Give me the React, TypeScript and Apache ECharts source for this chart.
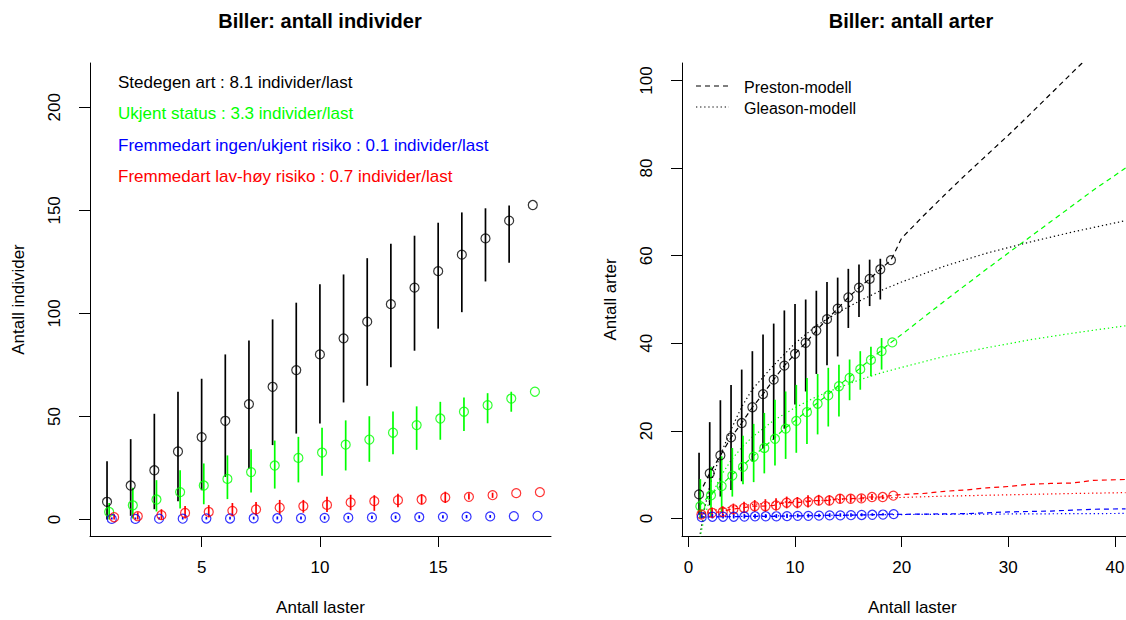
import React, { useEffect, useRef } from "react";
import * as echarts from "echarts";

// ---------- data ----------
const loads = [1, 2, 3, 4, 5, 6, 7, 8, 9, 10, 11, 12, 13, 14, 15, 16, 17, 18, 19];

// Left panel: number of individuals
const indBlack = [8.6, 16.5, 23.9, 33.0, 40.0, 47.9, 56.0, 64.4, 72.5, 80.1, 87.9, 96.0, 104.5, 112.5, 120.5, 128.5, 136.4, 145.0, 152.6];
const indBlackLo = [0, 1.8, 5, 8.9, 14.2, 20.7, 24.8, 36.1, 41.7, 46.6, 56.8, 64.9, 73.9, 81.9, 92.6, 100.6, 115.5, 124.6, null];
const indBlackHi = [28.3, 39, 51.3, 62, 68.3, 80.1, 86.9, 97.1, 105.2, 114.1, 118.9, 126.8, 133.8, 137.7, 144, 149, 151, 152.4, null];
const indGreen = [3.7, 6.9, 9.7, 13.3, 16.5, 19.7, 23.0, 26.2, 29.9, 32.5, 36.3, 38.8, 42.1, 45.8, 49.0, 52.3, 55.5, 58.7, 62.0];
const indGreenLo = [0, 0.5, 3.9, 5.3, 7.4, 9.9, 13.1, 15, 18, 21.2, 23.8, 28, 31.7, 33.8, 38.7, 42.9, 46.7, 52.3, null];
const indGreenHi = [8, 15.4, 19.1, 23.9, 27.2, 31.1, 34.1, 38.3, 40.1, 44.5, 48.1, 50.1, 52.4, 54.9, 57.1, 59.2, 61.3, 62, null];
const indRed = [1.1, 1.6, 2.1, 3.2, 3.7, 4.2, 4.9, 5.8, 6.5, 7.1, 8.3, 8.9, 9.4, 9.7, 10.7, 11.0, 11.8, 12.8, 13.3];
const indRedLo = [0, 0, 0, 0.5, 1, 1.5, 2, 2.5, 3.3, 3.7, 4.5, 4.2, 6, 7.3, 8, 9.7, 10.5, null, null];
const indRedHi = [2.5, 3.5, 5, 6.5, 7, 8, 8.5, 9.5, 9.5, 11, 12, 11.8, 12.5, 12.3, 13.5, 12.8, 13, null, null];
const indBlue = [0.3, 0.3, 0.4, 0.4, 0.5, 0.5, 0.6, 0.6, 0.7, 0.8, 0.9, 1.0, 1.1, 1.2, 1.3, 1.4, 1.5, 1.6, 1.8];
const indBlueLo = [0, 0, 0, 0, 0, 0, 0, 0, 0, 0, 0.1, 0.2, 0.3, 0.4, 0.5, 0.6, 0.8, null, null];
const indBlueHi = [1, 1, 1.1, 1.2, 1.3, 1.3, 1.4, 1.5, 1.5, 1.6, 1.7, 1.8, 1.9, 2.0, 2.1, 2.2, 2.2, null, null];

// Right panel: number of species
const sppBlack = [5.5, 10.3, 14.4, 18.5, 21.8, 25.4, 28.4, 31.7, 34.9, 37.6, 40.1, 42.9, 45.5, 47.9, 50.5, 52.7, 54.7, 56.9, 59.0];
const sppBlackLo = [0.9, 3, 5, 6.5, 8.5, 13, 16, 18, 20.5, 26, 29, 33, 35, 37, 43.5, 46, 48.5, 50, null];
const sppBlackHi = [15, 22, 27, 30.5, 34, 38.2, 42, 44.5, 47.5, 49, 50, 52, 54, 55, 57, 58, 59.1, 59.3, null];
const sppGreen = [2.8, 5.3, 7.4, 9.8, 11.8, 14.1, 16.1, 18.2, 20.5, 22.3, 24.3, 26.2, 28.1, 30.2, 32.1, 34.1, 36.2, 38.2, 40.2];
const sppGreenLo = [0, 0.5, 1.5, 5, 7.8, 8.3, 10.3, 12.1, 13.6, 15, 17, 19.2, 21, 23.3, 27, 29.4, 32.5, 34, null];
const sppGreenHi = [9, 11.8, 14.2, 16.1, 18.9, 21.6, 24.1, 27.1, 29, 30.5, 32.1, 33, 34.4, 35.1, 36.3, 38.2, 39.2, 41.2, null];
const sppRed = [0.9, 1.3, 1.5, 2.1, 2.4, 2.8, 2.8, 3.0, 3.6, 3.6, 3.8, 4.1, 4.1, 4.5, 4.5, 4.6, 4.9, 4.9, 5.2];
const sppRedLo = [0, 0.3, 0.5, 1, 1.2, 1.5, 1.5, 1.8, 2.3, 2.3, 2.5, 3, 3, 3.5, 3.6, 3.8, 4.2, 4.4, null];
const sppRedHi = [2, 2.5, 2.8, 3.4, 3.8, 4.2, 4.4, 4.6, 5, 4.9, 5.3, 5.4, 5.3, 5.6, 5.5, 5.5, 5.6, 5.4, null];
const sppBlue = [0.3, 0.4, 0.4, 0.4, 0.45, 0.5, 0.5, 0.5, 0.55, 0.6, 0.6, 0.65, 0.7, 0.7, 0.75, 0.8, 0.85, 0.9, 1.0];
const sppBlueLo = [0, 0, 0, 0, 0, 0, 0.1, 0.1, 0.1, 0.2, 0.2, 0.3, 0.3, 0.4, 0.4, 0.5, 0.6, 0.7, null];
const sppBlueHi = [0.9, 1, 1, 1, 1, 1, 1, 1, 1.1, 1.1, 1.1, 1.1, 1.2, 1.2, 1.2, 1.2, 1.2, 1.2, null];

// Preston-model extrapolation (beyond observed loads)
const extX = [20, 22, 24, 26, 28, 30, 32, 34, 36, 38, 41];
const prestonBlack = [64, 69, 73.8, 78.5, 83, 87.5, 92.2, 97, 101.8, 106.5, 113.5];
const prestonGreen = [42, 45.8, 49.6, 53.3, 57, 60.6, 64.2, 67.8, 71.4, 75, 80];
const prestonRed = [5.5, 5.7, 6.2, 6.5, 7.0, 7.3, 7.8, 8.0, 8.1, 8.7, 8.9];
const prestonBlue = [0.95, 1.0, 1.05, 1.1, 1.3, 1.5, 1.6, 1.7, 1.9, 2.1, 2.2];

// Gleason-model curves
const gleasonX = [1.1, 1.5, 2, 3, 4, 5, 6, 8, 10, 12, 14, 16, 18, 20, 24, 28, 32, 36, 41];
const gleasonBlack = [-3.5, 2, 7.5, 14.5, 20.3, 25.5, 29.5, 35, 40, 44, 47, 49.6, 52, 54, 57.6, 60.6, 63.1, 65.4, 68];
const gleasonGreen = [-4.4, 0.4, 4.2, 9.5, 13.3, 16.2, 18.6, 22.4, 25.3, 27.8, 29.8, 31.6, 33.2, 34.5, 37, 39, 40.8, 42.3, 44];
const gleasonRed = [0.7, 1.2, 1.6, 2.2, 2.6, 2.9, 3.2, 3.6, 3.9, 4.1, 4.3, 4.5, 4.7, 4.8, 5.1, 5.3, 5.5, 5.7, 5.9];
const gleasonBlue = [0.2, 0.25, 0.3, 0.4, 0.45, 0.5, 0.55, 0.6, 0.65, 0.7, 0.75, 0.8, 0.85, 0.9, 0.95, 1.0, 1.05, 1.1, 1.15];

const leftXTicks = [5, 10, 15];
const leftYTicks = [0, 50, 100, 150, 200];
const rightXTicks = [0, 10, 20, 30, 40];
const rightYTicks = [0, 20, 40, 60, 80, 100];

const legendLeft = [
  "Stedegen art : 8.1 individer/last",
  "Ukjent status : 3.3 individer/last",
  "Fremmedart ingen/ukjent risiko : 0.1 individer/last",
  "Fremmedart lav-høy risiko : 0.7 individer/last",
];
const legendRight = ["Preston-modell", "Gleason-modell"];

// ---------- styling ----------
const FONT = "'Liberation Sans', Arial, Helvetica, sans-serif";
const BLACK = "#000000";
const GREEN = "#00FF00";
const BLUE = "#0000FF";
const RED = "#FF0000";
const DASH = [5, 4];
const DOT = [1.3, 2.8];

function points(xs: number[], ys: number[], off: number) {
  return xs.map((x, i) => [x + off, ys[i]]);
}
function bars(xs: number[], lo: (number | null)[], hi: (number | null)[], off: number) {
  const out: number[][] = [];
  xs.forEach((x, i) => {
    if (lo[i] != null && hi[i] != null) out.push([x + off, lo[i] as number, hi[i] as number]);
  });
  return out;
}

function scatterSeries(data: number[][], color: string, gi: number) {
  return {
    type: "scatter",
    xAxisIndex: gi,
    yAxisIndex: gi,
    data,
    symbol: "circle",
    symbolSize: 9,
    itemStyle: { color: "rgba(0,0,0,0)", borderColor: color, borderWidth: 1.2 },
    silent: true,
    z: 4,
  };
}
function barSeries(data: number[][], color: string, gi: number) {
  return {
    type: "custom",
    xAxisIndex: gi,
    yAxisIndex: gi,
    data,
    encode: { x: 0, y: [1, 2] },
    clip: true,
    silent: true,
    z: 3,
    renderItem: (_p: any, api: any) => {
      const x = api.value(0);
      const a = api.coord([x, api.value(1)]);
      const b = api.coord([x, api.value(2)]);
      return {
        type: "line",
        shape: { x1: a[0], y1: a[1], x2: b[0], y2: b[1] },
        style: { stroke: color, lineWidth: 1.7 },
      };
    },
  };
}
function lineSeries(data: number[][], color: string, dash: number[]) {
  return {
    type: "line",
    xAxisIndex: 1,
    yAxisIndex: 1,
    data,
    showSymbol: false,
    symbol: "none",
    clip: true,
    silent: true,
    smooth: false,
    z: 2,
    lineStyle: { color, width: 1.2, type: dash },
  };
}

function axisCommon(ticks: number[], rotate: number, margin: number) {
  return {
    axisLine: { show: true, onZero: false, lineStyle: { color: BLACK, width: 1 } },
    axisTick: { show: true, customValues: ticks, length: 11, lineStyle: { color: BLACK, width: 1 } },
    axisLabel: {
      show: true,
      customValues: ticks,
      rotate,
      margin,
      color: BLACK,
      fontSize: 17,
      fontFamily: FONT,
    },
    splitLine: { show: false },
    nameLocation: "middle",
    nameGap: 63,
    nameTextStyle: { color: BLACK, fontSize: 17, fontFamily: FONT },
  };
}

export default function App() {
  const ref = useRef<HTMLDivElement>(null);

  useEffect(() => {
    if (!ref.current) return;
    const chart = echarts.init(ref.current, undefined, { renderer: "svg" });

    const prestonData = (ys: number[], ext: number[]) =>
      points(loads, ys, 0).concat(points(extX, ext, 0));

    const graphics: any[] = [
      {
        type: "text",
        x: 320,
        y: 21,
        style: {
          text: "Biller: antall individer",
          font: `bold 20px ${FONT}`,
          fill: BLACK,
          align: "center",
          verticalAlign: "middle",
          textAlign: "center",
          textVerticalAlign: "middle",
        },
      },
      {
        type: "text",
        x: 911,
        y: 21,
        style: {
          text: "Biller: antall arter",
          font: `bold 20px ${FONT}`,
          fill: BLACK,
          align: "center",
          verticalAlign: "middle",
          textAlign: "center",
          textVerticalAlign: "middle",
        },
      },
    ];
    const legColors = [BLACK, GREEN, BLUE, RED];
    const legY = [82, 113, 145, 176];
    legendLeft.forEach((t, i) => {
      graphics.push({
        type: "text",
        x: 118,
        y: legY[i],
        style: {
          text: t,
          font: `17px ${FONT}`,
          fill: legColors[i],
          align: "left",
          verticalAlign: "middle",
          textAlign: "left",
          textVerticalAlign: "middle",
        },
      });
    });
    const rY = [86, 107];
    const rDash = [DASH, DOT];
    legendRight.forEach((t, i) => {
      graphics.push({
        type: "line",
        shape: { x1: 696, y1: rY[i], x2: 729, y2: rY[i] },
        style: { stroke: BLACK, lineWidth: 1.2, lineDash: rDash[i] },
      });
      graphics.push({
        type: "text",
        x: 744,
        y: rY[i] + 1,
        style: {
          text: t,
          font: `16px ${FONT}`,
          fill: BLACK,
          align: "left",
          verticalAlign: "middle",
          textAlign: "left",
          textVerticalAlign: "middle",
        },
      });
    });

    const option: any = {
      animation: false,
      backgroundColor: "#ffffff",
      textStyle: { fontFamily: FONT },
      grid: [
        { left: 90, top: 63, width: 461, height: 473, containLabel: false, outerBoundsMode: "none" },
        { left: 682, top: 63, width: 460.6, height: 473, containLabel: false, outerBoundsMode: "none" },
      ],
      xAxis: [
        { type: "value", gridIndex: 0, min: 0.28, max: 19.77, name: "Antall laster", ...axisCommon(leftXTicks, 0, 23) },
        { type: "value", gridIndex: 1, min: -0.6, max: 42.6, name: "Antall laster", ...axisCommon(rightXTicks, 0, 23) },
      ],
      yAxis: [
        { type: "value", gridIndex: 0, min: -8, max: 221.5, name: "Antall individer", ...axisCommon(leftYTicks, 90, 27) },
        { type: "value", gridIndex: 1, min: -4, max: 104, name: "Antall arter", ...axisCommon(rightYTicks, 90, 27) },
      ],
      graphic: graphics,
      series: [
        // left panel
        barSeries(bars(loads, indBlackLo, indBlackHi, 0), BLACK, 0),
        barSeries(bars(loads, indGreenLo, indGreenHi, 0.09), GREEN, 0),
        barSeries(bars(loads, indBlueLo, indBlueHi, 0.2), BLUE, 0),
        barSeries(bars(loads, indRedLo, indRedHi, 0.3), RED, 0),
        scatterSeries(points(loads, indBlack, 0), BLACK, 0),
        scatterSeries(points(loads, indGreen, 0.09), GREEN, 0),
        scatterSeries(points(loads, indBlue, 0.2), BLUE, 0),
        scatterSeries(points(loads, indRed, 0.3), RED, 0),
        // right panel: model curves
        lineSeries(prestonData(sppBlack, prestonBlack), BLACK, DASH),
        lineSeries(prestonData(sppGreen, prestonGreen), GREEN, DASH),
        lineSeries(prestonData(sppRed, prestonRed), RED, DASH),
        lineSeries(prestonData(sppBlue, prestonBlue), BLUE, DASH),
        lineSeries(points(gleasonX, gleasonBlack, 0), BLACK, DOT),
        lineSeries(points(gleasonX, gleasonGreen, 0), GREEN, DOT),
        lineSeries(points(gleasonX, gleasonRed, 0), RED, DOT),
        lineSeries(points(gleasonX, gleasonBlue, 0), BLUE, DOT),
        // right panel: error bars and points
        barSeries(bars(loads, sppBlackLo, sppBlackHi, 0), BLACK, 1),
        barSeries(bars(loads, sppGreenLo, sppGreenHi, 0.12), GREEN, 1),
        barSeries(bars(loads, sppRedLo, sppRedHi, 0.22), RED, 1),
        barSeries(bars(loads, sppBlueLo, sppBlueHi, 0.25), BLUE, 1),
        scatterSeries(points(loads, sppBlack, 0), BLACK, 1),
        scatterSeries(points(loads, sppGreen, 0.12), GREEN, 1),
        scatterSeries(points(loads, sppRed, 0.22), RED, 1),
        scatterSeries(points(loads, sppBlue, 0.25), BLUE, 1),
      ],
    };

    chart.setOption(option);
    return () => {
      chart.dispose();
    };
  }, []);

  return (
    <div
      ref={ref}
      style={{ position: "fixed", left: 0, top: 0, width: 1126, height: 620, background: "#fff" }}
    />
  );
}
